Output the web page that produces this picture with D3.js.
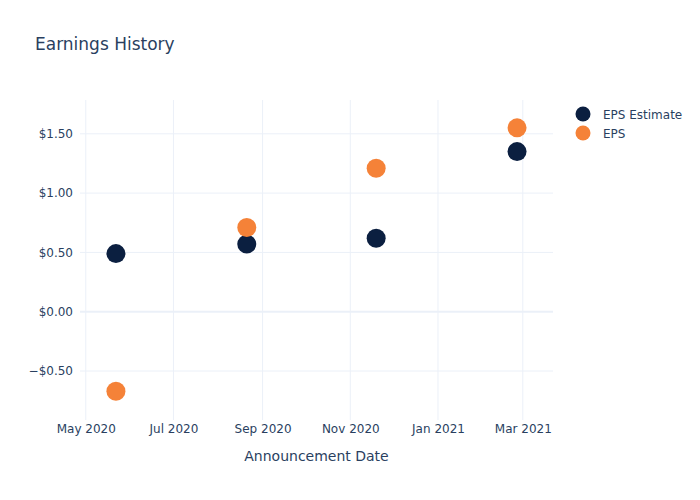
<!DOCTYPE html>
<html><head><meta charset="utf-8">
<script src="https://cdn.jsdelivr.net/npm/d3@7"></script>
<style>body{margin:0;background:#fff}svg{display:block}text{font-family:"DejaVu Sans",sans-serif}</style>
</head><body>
<svg id="c" width="700" height="500"></svg>
<script>
const dates = ["2020-05-22","2020-08-21","2020-11-19","2021-02-25"];
const epsEstimate = [0.49, 0.57, 0.62, 1.35];
const eps = [-0.67, 0.71, 1.21, 1.55];
const seriesNames = ["EPS Estimate","EPS"];
const seriesColors = ["#0b1f40","#f58238"];
const xTickDates = ["2020-05-01","2020-07-01","2020-09-01","2020-11-01","2021-01-01","2021-03-01"];
const yTicks = [-0.5, 0, 0.5, 1.0, 1.5];

const parse = d3.timeParse("%Y-%m-%d");
const svg = d3.select("#c");
const L=80, R=553, T=100, B=420;
const x = d3.scaleTime().domain([parse("2020-04-27"), parse("2021-03-22")]).range([L,R]);
const y = d3.scaleLinear().domain([-0.913, 1.785]).range([B,T]);
const txt = "#2a3f5f", grid = "#ebf0f8";

// grid
svg.append("g").selectAll("line").data(xTickDates.map(parse)).join("line")
  .attr("x1",d=>x(d)).attr("x2",d=>x(d)).attr("y1",T).attr("y2",B)
  .attr("stroke",grid).attr("stroke-width",1);
svg.append("g").selectAll("line").data(yTicks).join("line")
  .attr("x1",L).attr("x2",R).attr("y1",d=>y(d)).attr("y2",d=>y(d))
  .attr("stroke",grid).attr("stroke-width",d=>d===0?2:1);

// axes
const fmtY = d => (d<0?"\u2212":"") + "$" + Math.abs(d).toFixed(2);
const yAxis = d3.axisLeft(y).tickValues(yTicks).tickFormat(fmtY).tickSize(0).tickPadding(6);
const gy = svg.append("g").attr("transform",`translate(${L-1},0)`).call(yAxis);
gy.select(".domain").remove();
gy.selectAll("text").attr("fill",txt).attr("font-size",12).attr("font-family","DejaVu Sans, sans-serif");

const xAxis = d3.axisBottom(x).tickValues(xTickDates.map(parse)).tickFormat(d3.timeFormat("%b %Y")).tickSize(0).tickPadding(4);
const gx = svg.append("g").attr("transform",`translate(0,${B})`).call(xAxis);
gx.select(".domain").remove();
gx.selectAll("text").attr("fill",txt).attr("font-size",12).attr("font-family","DejaVu Sans, sans-serif");

// points
const data = [epsEstimate, eps];
data.forEach((vals,i)=>{
  svg.append("g").selectAll("circle").data(vals).join("circle")
    .attr("cx",(d,j)=>x(parse(dates[j]))).attr("cy",d=>y(d)).attr("r",9.5)
    .attr("fill",seriesColors[i]);
});

// title
svg.append("text").attr("x",35).attr("y",50).attr("fill",txt).attr("font-size",17).text("Earnings History");
svg.append("text").attr("x",(L+R)/2).attr("y",461).attr("text-anchor","middle").attr("fill",txt).attr("font-size",14).text("Announcement Date");

// legend
const lg = svg.append("g").selectAll("g").data(seriesNames).join("g")
  .attr("transform",(d,i)=>`translate(583,${114+i*19})`);
lg.append("circle").attr("r",7.5).attr("fill",(d,i)=>seriesColors[i]);
lg.append("text").attr("x",20).attr("y",4.5).attr("font-size",12).attr("fill",txt).text(d=>d);
</script>
</body></html>
